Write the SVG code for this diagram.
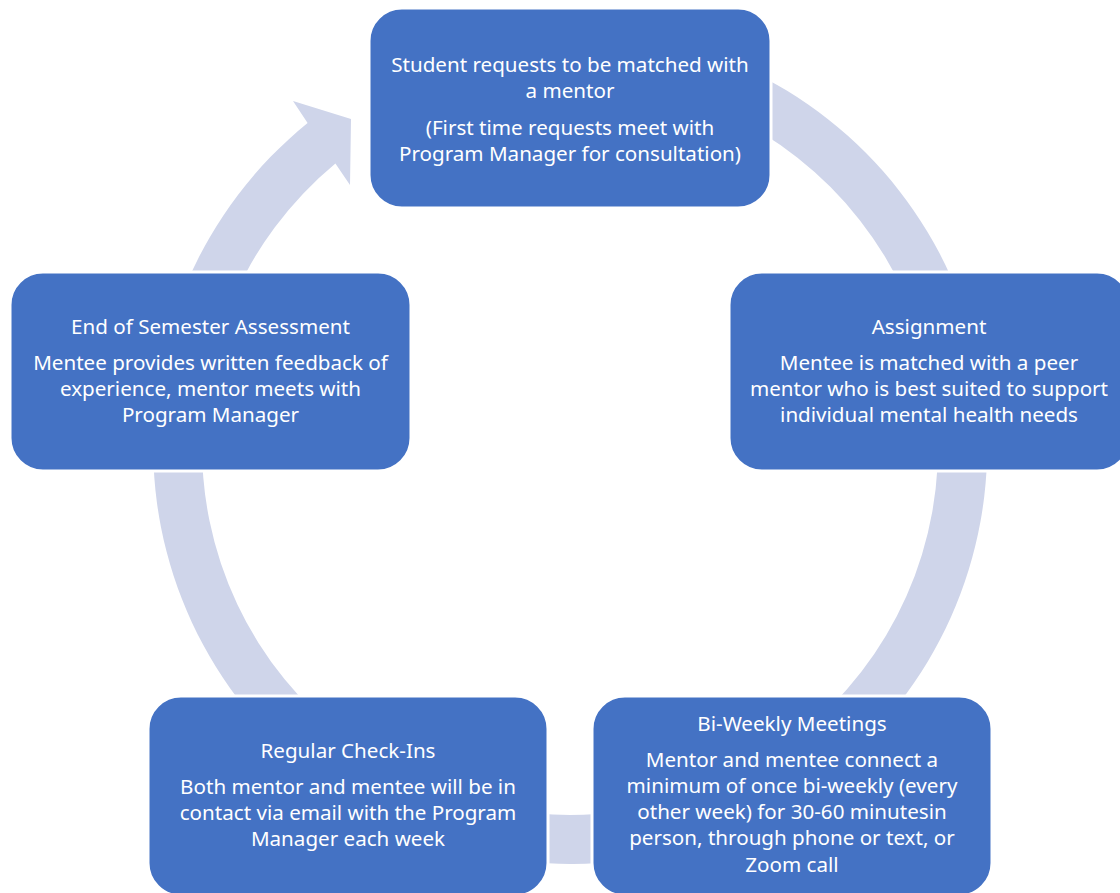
<svg xmlns="http://www.w3.org/2000/svg" width="1120" height="893" viewBox="0 0 1120 893">
<style>
.box{fill:#4472C4;stroke:#FFFFFF;stroke-width:3}
.ring{fill:#CFD5EA}
text{font-family:"Noto Sans","Open Sans","Liberation Sans",sans-serif;font-size:20.6px;fill:#FFFFFF;text-anchor:middle}
</style>
<rect width="1120" height="893" fill="#FFFFFF"/>
<g id="connectors">
<path class="ring" d="M497.6,36.3 A417,417 0 1 1 307.6,123.0 L293,101 L351,119 L350,185 L335.4,163.5 A368,368 0 1 0 506.1,84.6 Z"/>
</g>
<g id="node-request">
<rect class="box" x="369" y="8" width="402" height="200" rx="33"/>
<text x="570" y="72">Student requests to be matched with</text>
<text x="570" y="98">a mentor</text>
<text x="570" y="135">(First time requests meet with</text>
<text x="570" y="161">Program Manager for consultation)</text>
</g>
<g id="node-assignment">
<rect class="box" x="729" y="272" width="401" height="199" rx="33"/>
<text x="929" y="334">Assignment</text>
<text x="929" y="370">Mentee is matched with a peer</text>
<text x="929" y="396">mentor who is best suited to support</text>
<text x="929" y="422">individual mental health needs</text>
</g>
<g id="node-meetings">
<rect class="box" x="592" y="696" width="400" height="200" rx="33"/>
<text x="792" y="731">Bi-Weekly Meetings</text>
<text x="792" y="767">Mentor and mentee connect a</text>
<text x="792" y="793">minimum of once bi-weekly (every</text>
<text x="792" y="819">other week) for 30-60 minutesin</text>
<text x="792" y="845">person, through phone or text, or</text>
<text x="792" y="872">Zoom call</text>
</g>
<g id="node-checkins">
<rect class="box" x="148" y="696" width="400" height="200" rx="33"/>
<text x="348" y="758">Regular Check-Ins</text>
<text x="348" y="794">Both mentor and mentee will be in</text>
<text x="348" y="820">contact via email with the Program</text>
<text x="348" y="846">Manager each week</text>
</g>
<g id="node-assessment">
<rect class="box" x="10" y="272" width="401" height="199" rx="33"/>
<text x="210.5" y="334">End of Semester Assessment</text>
<text x="210.5" y="370">Mentee provides written feedback of</text>
<text x="210.5" y="396">experience, mentor meets with</text>
<text x="210.5" y="422">Program Manager</text>
</g>
</svg>
